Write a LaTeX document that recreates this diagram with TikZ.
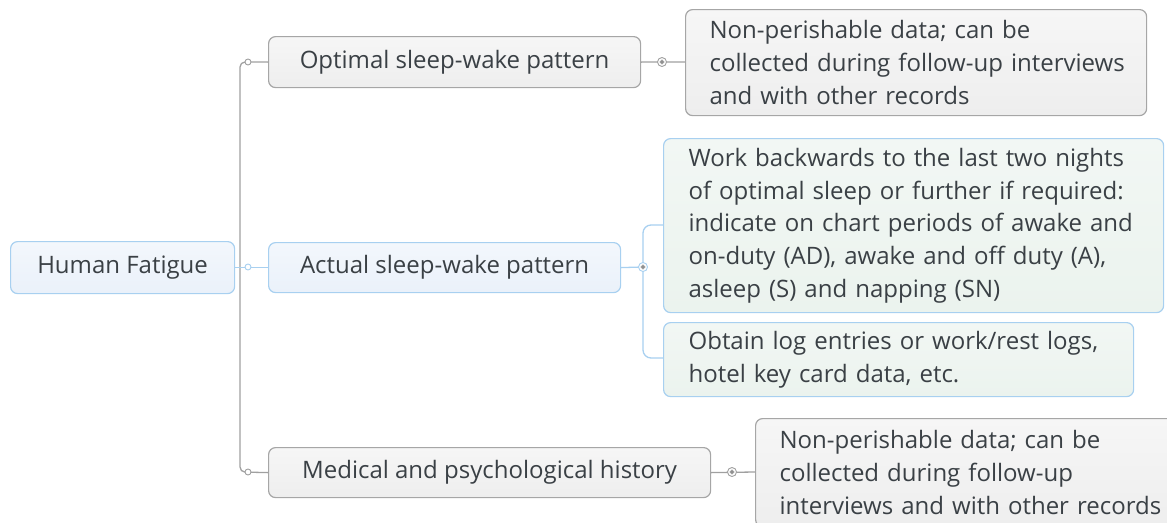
\documentclass[tikz,border=0pt]{standalone}
\usepackage{fontspec}
\setmainfont{Open Sans}
\begin{document}
\begin{tikzpicture}[x=1pt,y=-1pt,
  every node/.style={font=\fontsize{24}{32.7}\selectfont, text=txt},
  graybox/.style={draw=gbord, line width=1.2pt, top color=gtop, bottom color=gfill, rounded corners=7pt, inner sep=0pt, anchor=north west},
  bluebox/.style={draw=bbord, line width=1.2pt, top color=btop, bottom color=bfill, rounded corners=7pt, inner sep=0pt, anchor=north west},
  notebox/.style={draw=bbord, line width=1.2pt, top color=ntop, bottom color=nfill, rounded corners=7pt, inner sep=0pt, anchor=north west, align=left},
  gnote/.style={draw=gbord, line width=1.2pt, top color=gtop, bottom color=gfill, rounded corners=7pt, inner sep=0pt, anchor=north west, align=left},
  gline/.style={draw=gline, line width=1.3pt},
  bline/.style={draw=bline, line width=1.3pt},
  knob/.style={circle, draw=#1, fill=white, line width=0.9pt, minimum size=6pt, inner sep=0pt},
  bigknob/.style={circle, draw=#1, fill=white, line width=0.9pt, minimum size=9pt, inner sep=0pt},
]
\definecolor{txt}{HTML}{3A4045}
\definecolor{gbord}{HTML}{A6A6A6}
\definecolor{gtop}{HTML}{F6F6F6}
\definecolor{gfill}{HTML}{EEEEEE}
\definecolor{bbord}{HTML}{A8D0F0}
\definecolor{btop}{HTML}{F3F7FC}
\definecolor{bfill}{HTML}{EAF1FA}
\definecolor{ntop}{HTML}{F2F7F4}
\definecolor{nfill}{HTML}{EBF3EE}
\definecolor{gline}{HTML}{A0A0A0}
\definecolor{bline}{HTML}{A8D0F0}
\useasboundingbox (0,0) rectangle (1167,522);
\clip (0,0) rectangle (1167,522);

% main nodes
\node[bluebox, minimum width=224pt, minimum height=52pt] (hf) at (10,241) {Human Fatigue};
\node[graybox, minimum width=372pt, minimum height=51pt] (opt) at (268,36) {Optimal sleep-wake pattern};
\node[bluebox, minimum width=352pt, minimum height=50pt] (act) at (268,242) {Actual sleep-wake pattern};
\node[graybox, minimum width=442pt, minimum height=50pt] (med) at (268,447) {Medical and psychological history};

% notes
\node[gnote, minimum width=461pt, minimum height=106pt, text width=413pt] (n1) at (685,9)
  {\mbox{Non-perishable data; can be}\\\mbox{collected during follow-up interviews}\\\mbox{and with other records}};
\node[notebox, minimum width=500pt, minimum height=174pt, text width=450pt] (n2) at (663,138)
  {\mbox{Work backwards to the last two nights}\\\mbox{of optimal sleep or further if required:}\\\mbox{indicate on chart periods of awake and}\\\mbox{on-duty (AD), awake and off duty (A),}\\\mbox{asleep (S) and napping (SN)}};
\node[notebox, minimum width=470pt, minimum height=74pt, text width=420pt] (n3) at (663,322)
  {\mbox{Obtain log entries or work/rest logs,}\\\mbox{hotel key card data, etc.}};
\node[gnote, minimum width=430pt, minimum height=108pt, text width=382pt] (n4) at (755,418)
  {\mbox{Non-perishable data; can be}\\\mbox{collected during follow-up}\\\mbox{interviews and with other records}};

% trunk
\draw[gline, rounded corners=5pt] (opt.west) -- (240,62) -- (240,472) -- (med.west);
\draw[bline] (hf.east) -- (act.west);
\node[knob=gline] (k1) at (248,62) {};
\node[knob=gline] (k3) at (248,472) {};
\node[knob=bline] (k2) at (248,267) {};

% right connectors
\coordinate (c1) at (662,62);
\draw[gline] (opt.east) -- (n1.west |- c1);
\node[bigknob=gline] (ko) at (c1) {};
\fill[gline] (c1) circle (1.6pt);

\coordinate (c3) at (732,472);
\draw[gline] (med.east) -- (n4.west |- c3);
\node[bigknob=gline] (km) at (c3) {};
\fill[gline] (c3) circle (1.6pt);

\coordinate (c2) at (643,267);
\draw[bline] (act.east) -- (c2);
\draw[bline, rounded corners=8pt] (n2.west |- 0,225) -- (643,225) -- (643,358) -- (n3.west |- 0,358);
\node[bigknob=bline] (ka) at (c2) {};
\fill[gline] (c2) circle (1.6pt);
\end{tikzpicture}
\end{document}
